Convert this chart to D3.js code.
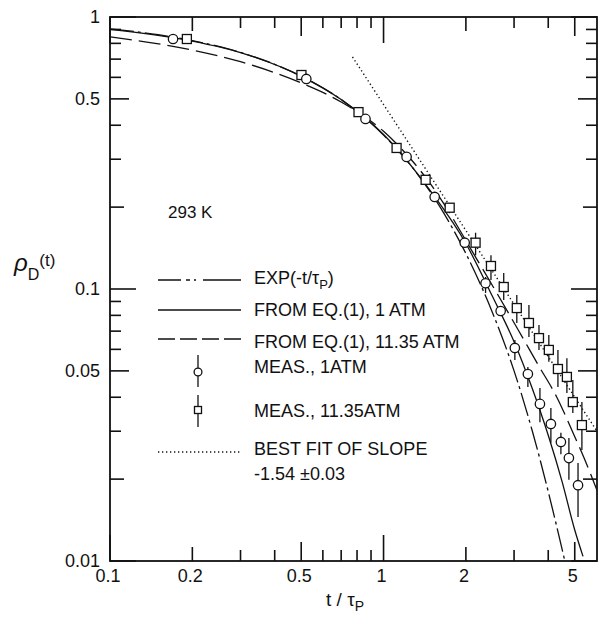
<!DOCTYPE html>
<html>
<head>
<meta charset="utf-8">
<script src="https://cdn.jsdelivr.net/npm/d3@7"></script>
<style>
  body { margin: 0; background: #fff; }
  svg { display: block; }
  text { font-family: "Liberation Sans", Arial, sans-serif; fill: #111; }
</style>
</head>
<body>
<svg id="chart" width="599" height="618"></svg>
<script>
// ---- data ----
// EXP(-t/tau_P), dash-dot
var tExp   = [0.1, 0.15, 0.2, 0.3, 0.4, 0.5, 0.7, 1.0, 1.3, 1.6, 2.0, 2.5, 3.0, 3.5, 4.0, 4.6];
var rhoExp = [0.905, 0.861, 0.819, 0.741, 0.670, 0.607, 0.497, 0.368, 0.273, 0.202, 0.135, 0.082, 0.050, 0.030, 0.018, 0.010];
// from eq.(1), 1 atm, solid
var tEq1   = [0.1, 0.2, 0.3, 0.5, 0.7, 1.0, 1.5, 2.0, 2.5, 3.0, 3.5, 4.0, 4.5, 5.0, 5.36];
var rhoEq1 = [0.90, 0.815, 0.74, 0.605, 0.497, 0.37, 0.226, 0.147, 0.094, 0.064, 0.043, 0.029, 0.0195, 0.013, 0.0104];
// from eq.(1), 11.35 atm, long dash
var tEq2   = [0.1, 0.2, 0.3, 0.5, 0.7, 1.0, 1.5, 2.2, 3.1, 3.7, 4.3, 4.9, 5.4, 6.03];
var rhoEq2 = [0.845, 0.756, 0.685, 0.572, 0.487, 0.38, 0.24, 0.128, 0.071, 0.052, 0.040, 0.030, 0.024, 0.0182];
// best fit, slope -1.54, dotted
var tFit   = [0.77, 6.03];
var rhoFit = [0.713, 0.030];

// measured, 1 atm (circles)  lo/hi = error bar ends (null = no bar)
var tM1   = [0.170, 0.522, 0.859, 1.214, 1.538, 1.98, 2.36, 2.68, 3.02, 3.37, 3.73, 4.09, 4.45, 4.76, 5.14];
var rhoM1 = [0.830, 0.592, 0.422, 0.306, 0.218, 0.148, 0.105, 0.083, 0.0607, 0.0487, 0.0378, 0.0319, 0.0274, 0.0239, 0.0190];
var loM1  = [null, null, null, null, null, null, 0.0967, null, 0.0548, 0.0436, 0.0324, 0.0272, 0.0247, 0.0199, 0.0145];
var hiM1  = [null, null, null, null, null, null, 0.1107, null, 0.0649, 0.0517, 0.0433, 0.0365, 0.0296, 0.0283, 0.0229];
// measured, 11.35 atm (squares)
var tM2   = [0.191, 0.501, 0.81, 1.116, 1.425, 1.745, 2.17, 2.47, 2.75, 3.07, 3.40, 3.70, 4.02, 4.34, 4.68, 4.92, 5.31];
var rhoM2 = [0.830, 0.612, 0.447, 0.330, 0.252, 0.199, 0.148, 0.1215, 0.1017, 0.0851, 0.075, 0.066, 0.0597, 0.0508, 0.0475, 0.0384, 0.0316];
var loM2  = [null, null, null, null, null, null, 0.133, 0.108, 0.0911, 0.075, 0.0666, 0.0597, 0.054, 0.0436, 0.0415, 0.035, 0.0256];
var hiM2  = [null, null, null, null, null, null, 0.161, 0.133, 0.1146, 0.0951, 0.0873, 0.0738, 0.0678, 0.0597, 0.0557, 0.0463, 0.0384];

// ticks
var xTickVals = [0.1, 0.2, 0.3, 0.4, 0.5, 0.6, 0.7, 0.8, 0.9, 1, 2, 3, 4, 5];
var yTickVals = [0.01, 0.02, 0.03, 0.04, 0.05, 0.06, 0.07, 0.08, 0.09,
                 0.1, 0.2, 0.3, 0.4, 0.5, 0.6, 0.7, 0.8, 0.9, 1];
var xLabelVals = [0.1, 0.2, 0.5, 1, 2, 5];
var xLabelText = ["0.1", "0.2", "0.5", "1", "2", "5"];
var yLabelVals = [1, 0.5, 0.1, 0.05, 0.01];
var yLabelText = ["1", "0.5", "0.1", "0.05", "0.01"];

// ---- drawing ----
var svg = d3.select("#chart");
var L = 110, R = 597, T = 17, B = 561;

var x = d3.scaleLog().domain([0.1, 6.03]).range([L, R]);
var y = d3.scaleLog().domain([0.01, 1]).range([B, T]);

svg.append("rect").attr("width", 599).attr("height", 618).attr("fill", "#fff");

svg.append("clipPath").attr("id", "plot")
  .append("rect").attr("x", L).attr("y", T).attr("width", R - L).attr("height", B - T);

// tick length by mantissa
function tickLen(v) {
  var m = Math.round(v / Math.pow(10, Math.floor(Math.log10(v) + 1e-9)));
  if (m == 1) return 26;
  if (m == 5) return 19;
  if (m == 2) return 14;
  return 11;
}

var ticks = svg.append("g").attr("stroke", "#111").attr("stroke-width", 1.6);
xTickVals.forEach(function(v) {
  var len = tickLen(v);
  ticks.append("line").attr("x1", x(v)).attr("x2", x(v)).attr("y1", B).attr("y2", B - len);
  ticks.append("line").attr("x1", x(v)).attr("x2", x(v)).attr("y1", T).attr("y2", T + len);
});
yTickVals.forEach(function(v) {
  var len = tickLen(v);
  ticks.append("line").attr("y1", y(v)).attr("y2", y(v)).attr("x1", L).attr("x2", L + len);
  ticks.append("line").attr("y1", y(v)).attr("y2", y(v)).attr("x1", R).attr("x2", R - len);
});

svg.append("rect").attr("x", L).attr("y", T).attr("width", R - L).attr("height", B - T)
  .attr("fill", "none").attr("stroke", "#111").attr("stroke-width", 1.8);

// tick labels
svg.selectAll(".xl").data(xLabelVals).enter().append("text")
  .attr("x", function(d) { return x(d) - 2; })
  .attr("y", 582)
  .attr("text-anchor", "middle")
  .attr("font-size", 18)
  .text(function(d, i) { return xLabelText[i]; });

svg.selectAll(".yl").data(yLabelVals).enter().append("text")
  .attr("x", 100)
  .attr("y", function(d) { return y(d) + 6; })
  .attr("text-anchor", "end")
  .attr("font-size", 18)
  .text(function(d, i) { return yLabelText[i]; });

// axis titles
var xt = svg.append("text").attr("x", 345).attr("y", 606).attr("text-anchor", "middle").attr("font-size", 19);
xt.append("tspan").text("t / τ");
xt.append("tspan").attr("dy", 5).attr("font-size", 14).text("P");

var yt = svg.append("text").attr("x", 14).attr("y", 271).attr("font-size", 18);
yt.append("tspan").attr("font-size", 24).attr("font-style", "italic").text("ρ");
yt.append("tspan").attr("dy", 9).attr("font-size", 16).text("D");
yt.append("tspan").attr("dy", -14).attr("font-size", 17).text("(t)");

svg.append("text").attr("x", 168).attr("y", 218).attr("font-size", 17).text("293 K");

// curves
var line = d3.line()
  .x(function(d) { return x(d[0]); })
  .y(function(d) { return y(d[1]); })
  .curve(d3.curveMonotoneX);

var curves = svg.append("g").attr("clip-path", "url(#plot)")
  .attr("fill", "none").attr("stroke", "#111").attr("stroke-width", 1.3);

var dashExp = "24,4,3,4", dashEq2 = "22,7", dashFit = "1.3,2.7";

curves.append("path").datum(d3.zip(tExp, rhoExp)).attr("d", line).attr("stroke-dasharray", dashExp);
curves.append("path").datum(d3.zip(tEq1, rhoEq1)).attr("d", line);
curves.append("path").datum(d3.zip(tEq2, rhoEq2)).attr("d", line).attr("stroke-dasharray", dashEq2);
curves.append("path").datum(d3.zip(tFit, rhoFit)).attr("d", line).attr("stroke-dasharray", dashFit)
  .attr("stroke-width", 1.4);

// measured points
var pts = svg.append("g").attr("stroke", "#111").attr("stroke-width", 1.3);

function drawBars(ts, lo, hi) {
  ts.forEach(function(t, i) {
    if (lo[i] == null) return;
    pts.append("line").attr("x1", x(t)).attr("x2", x(t)).attr("y1", y(lo[i])).attr("y2", y(hi[i]));
  });
}
drawBars(tM1, loM1, hiM1);
drawBars(tM2, loM2, hiM2);

pts.selectAll(".sq").data(d3.zip(tM2, rhoM2)).enter().append("rect")
  .attr("x", function(d) { return x(d[0]) - 4.5; })
  .attr("y", function(d) { return y(d[1]) - 4.5; })
  .attr("width", 9).attr("height", 9)
  .attr("fill", "#fff");

pts.selectAll(".ci").data(d3.zip(tM1, rhoM1)).enter().append("circle")
  .attr("cx", function(d) { return x(d[0]); })
  .attr("cy", function(d) { return y(d[1]); })
  .attr("r", 4.7)
  .attr("fill", "#fff");

// legend
var lg = svg.append("g");
var lx1 = 158, lx2 = 241, tx = 254;
var ls = lg.append("g").attr("stroke", "#111").attr("stroke-width", 1.3).attr("fill", "none");
ls.append("line").attr("x1", lx1).attr("x2", lx2).attr("y1", 280).attr("y2", 280).attr("stroke-dasharray", "23,5,4,4,2,7,40");
ls.append("line").attr("x1", lx1).attr("x2", lx2).attr("y1", 310).attr("y2", 310);
ls.append("line").attr("x1", lx1).attr("x2", lx2).attr("y1", 339).attr("y2", 339).attr("stroke-dasharray", "17,5");
ls.append("line").attr("x1", lx1).attr("x2", lx2).attr("y1", 452).attr("y2", 452).attr("stroke-dasharray", dashFit);
ls.append("line").attr("x1", 198).attr("x2", 198).attr("y1", 355).attr("y2", 387);
ls.append("circle").attr("cx", 198).attr("cy", 372).attr("r", 3.9).attr("fill", "#fff");
ls.append("line").attr("x1", 198).attr("x2", 198).attr("y1", 395).attr("y2", 427);
ls.append("rect").attr("x", 194.5).attr("y", 406.5).attr("width", 7).attr("height", 7).attr("fill", "#fff");

var fs = 18;
var e = lg.append("text").attr("x", tx).attr("y", 284).attr("font-size", fs);
e.append("tspan").text("EXP(-t/τ");
e.append("tspan").attr("dy", 5).attr("font-size", 13).text("P");
e.append("tspan").attr("dy", -5).text(")");
lg.append("text").attr("x", tx).attr("y", 316).attr("font-size", fs).text("FROM EQ.(1), 1 ATM");
lg.append("text").attr("x", tx).attr("y", 348).attr("font-size", fs).text("FROM EQ.(1), 11.35 ATM");
lg.append("text").attr("x", tx).attr("y", 373).attr("font-size", fs).text("MEAS., 1ATM");
lg.append("text").attr("x", tx).attr("y", 417).attr("font-size", fs).text("MEAS., 11.35ATM");
lg.append("text").attr("x", tx).attr("y", 455).attr("font-size", fs).text("BEST FIT OF SLOPE");
lg.append("text").attr("x", tx).attr("y", 480).attr("font-size", fs).text("-1.54 ±0.03");
</script>
</body>
</html>
